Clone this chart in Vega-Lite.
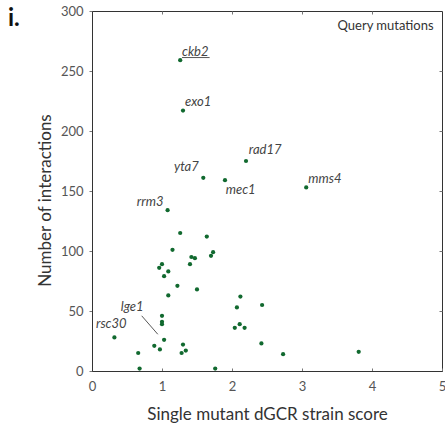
{
  "$schema": "https://vega.github.io/schema/vega-lite/v6.json",
  "width": 350,
  "height": 360,
  "autosize": "none",
  "padding": {"left": 92, "top": 11, "right": 3, "bottom": 56},
  "background": "white",
  "title": {
    "text": "i.",
    "fontSize": 24,
    "fontWeight": "bold",
    "font": "Lato",
    "color": "#111111",
    "anchor": "start",
    "frame": "group",
    "baseline": "alphabetic",
    "offset": 0,
    "dx": -84,
    "dy": 45
  },
  "config": {
    "view": {"stroke": "#333333", "strokeWidth": 1},
    "axis": {
      "grid": false,
      "domainColor": "#333333",
      "tickColor": "#777777",
      "labelColor": "#555555",
      "labelFont": "Lato",
      "labelFontSize": 13,
      "titleFont": "Lato",
      "titleFontSize": 17,
      "titleFontWeight": "normal",
      "titleColor": "#333333"
    }
  },
  "datasets": {
    "strains": [
      {"gene": "ckb2", "score": 1.26, "interactions": 259},
      {"gene": "exo1", "score": 1.30, "interactions": 217},
      {"gene": "rad17", "score": 2.20, "interactions": 175},
      {"gene": "yta7", "score": 1.59, "interactions": 161},
      {"gene": "mec1", "score": 1.90, "interactions": 159},
      {"gene": "mms4", "score": 3.06, "interactions": 153},
      {"gene": "rrm3", "score": 1.08, "interactions": 134},
      {"gene": "", "score": 1.26, "interactions": 115},
      {"gene": "", "score": 1.64, "interactions": 112},
      {"gene": "", "score": 1.15, "interactions": 101},
      {"gene": "", "score": 1.42, "interactions": 95},
      {"gene": "", "score": 1.47, "interactions": 94},
      {"gene": "", "score": 1.40, "interactions": 89},
      {"gene": "", "score": 1.73, "interactions": 99},
      {"gene": "", "score": 1.70, "interactions": 96},
      {"gene": "", "score": 1.00, "interactions": 89},
      {"gene": "", "score": 0.96, "interactions": 86},
      {"gene": "", "score": 1.09, "interactions": 83},
      {"gene": "", "score": 1.03, "interactions": 79},
      {"gene": "", "score": 1.22, "interactions": 71},
      {"gene": "", "score": 1.50, "interactions": 68},
      {"gene": "", "score": 1.09, "interactions": 63},
      {"gene": "", "score": 2.12, "interactions": 62},
      {"gene": "", "score": 2.07, "interactions": 53},
      {"gene": "", "score": 2.43, "interactions": 55},
      {"gene": "", "score": 1.00, "interactions": 46},
      {"gene": "", "score": 1.00, "interactions": 41},
      {"gene": "", "score": 1.00, "interactions": 39},
      {"gene": "", "score": 2.04, "interactions": 36},
      {"gene": "", "score": 2.11, "interactions": 39},
      {"gene": "", "score": 2.18, "interactions": 36},
      {"gene": "rsc30", "score": 0.32, "interactions": 28},
      {"gene": "lge1", "score": 1.03, "interactions": 26},
      {"gene": "", "score": 0.89, "interactions": 21},
      {"gene": "", "score": 0.97, "interactions": 18},
      {"gene": "", "score": 1.30, "interactions": 22},
      {"gene": "", "score": 1.34, "interactions": 17},
      {"gene": "", "score": 1.28, "interactions": 15},
      {"gene": "", "score": 0.66, "interactions": 15},
      {"gene": "", "score": 0.68, "interactions": 2},
      {"gene": "", "score": 1.76, "interactions": 2},
      {"gene": "", "score": 2.42, "interactions": 23},
      {"gene": "", "score": 2.73, "interactions": 14},
      {"gene": "", "score": 3.81, "interactions": 16}
    ],
    "geneLabels": [
      {"gene": "ckb2", "score": 1.286, "interactions": 262.5},
      {"gene": "exo1", "score": 1.33, "interactions": 221},
      {"gene": "rad17", "score": 2.24, "interactions": 181},
      {"gene": "yta7", "score": 1.17, "interactions": 167},
      {"gene": "mec1", "score": 1.91, "interactions": 147.5},
      {"gene": "mms4", "score": 3.09, "interactions": 157},
      {"gene": "rrm3", "score": 0.64, "interactions": 137.5},
      {"gene": "lge1", "score": 0.41, "interactions": 50},
      {"gene": "rsc30", "score": 0.057, "interactions": 35.6}
    ],
    "strokes": [
      {"what": "ckb2 underline", "score": 1.286, "interactions": 261.2, "score2": 1.68, "interactions2": 261.2},
      {"what": "lge1 leader", "score": 0.71, "interactions": 46, "score2": 0.94, "interactions2": 30.6}
    ],
    "legendNote": [
      {"note": "Query mutations", "score": 4.88, "interactions": 284}
    ]
  },
  "resolve": {"axis": {"x": "independent", "y": "independent"}},
  "layer": [
    {
      "data": {"name": "strains"},
      "mark": {"type": "circle", "size": 18, "opacity": 1, "color": "#11692f"},
      "encoding": {
        "x": {
          "field": "score", "type": "quantitative",
          "scale": {"domain": [0, 5], "nice": false, "zero": false},
          "axis": {
            "orient": "bottom",
            "title": "Single mutant dGCR strain score",
            "values": [0, 1, 2, 3, 4, 5],
            "tickSize": -3,
            "labelPadding": 12,
            "labelFlush": false,
            "titleY": 48,
            "titleBaseline": "alphabetic"
          }
        },
        "y": {
          "field": "interactions", "type": "quantitative",
          "scale": {"domain": [0, 300], "nice": false},
          "axis": {
            "orient": "left",
            "title": "Number of interactions",
            "values": [0, 50, 100, 150, 200, 250, 300],
            "tickSize": 3,
            "labelPadding": 6,
            "labelFlush": false,
            "titleX": -42,
            "titleY": 189,
            "titleAlign": "center",
            "titleBaseline": "alphabetic",
            "titleAngle": -90
          }
        }
      }
    },
    {
      "data": {"name": "geneLabels"},
      "mark": {"type": "text", "align": "left", "baseline": "alphabetic", "font": "Lato", "fontStyle": "italic", "fontSize": 13, "color": "#444444"},
      "encoding": {
        "x": {"field": "score", "type": "quantitative", "axis": {"orient": "top", "title": null, "labels": false, "domain": false, "values": [1, 2, 3, 4], "tickSize": -3}},
        "y": {"field": "interactions", "type": "quantitative", "axis": {"orient": "right", "title": null, "labels": false, "domain": false, "values": [50, 100, 150, 200, 250], "tickSize": -3}},
        "text": {"field": "gene"}
      }
    },
    {
      "data": {"name": "strokes"},
      "mark": {"type": "rule", "color": "#444444", "strokeWidth": 0.9},
      "encoding": {
        "x": {"field": "score", "type": "quantitative", "axis": null},
        "y": {"field": "interactions", "type": "quantitative", "axis": null},
        "x2": {"field": "score2"},
        "y2": {"field": "interactions2"}
      }
    },
    {
      "data": {"name": "legendNote"},
      "mark": {"type": "text", "align": "right", "baseline": "alphabetic", "font": "Lato", "fontSize": 13, "color": "#333333"},
      "encoding": {
        "x": {"field": "score", "type": "quantitative", "axis": null},
        "y": {"field": "interactions", "type": "quantitative", "axis": null},
        "text": {"field": "note"}
      }
    }
  ]
}
